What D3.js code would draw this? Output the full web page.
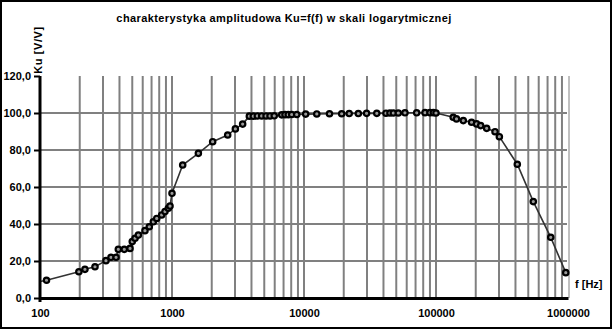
<!DOCTYPE html>
<html>
<head>
<meta charset="utf-8">
<script src="https://cdn.jsdelivr.net/npm/d3@7"></script>
<style>
  body { margin:0; background:#fff; }
  text { font-family: "Liberation Sans", Arial, sans-serif; font-weight:bold; fill:#000; }
</style>
</head>
<body>
<div id="canvas"></div>
<script>
// measured frequencies [Hz]
var freq = [95, 112, 197, 219, 261, 316, 345, 377, 392, 435, 481, 500, 525, 556, 624, 673, 722, 766, 835, 885, 938, 966, 1000,
  1205, 1584, 2033, 2642, 3020, 3430,
  3855, 4130, 4430, 4780, 5160, 5530, 5950,
  6780, 7180, 7600, 8070, 8810,
  10300, 12500, 15600, 19300, 22000, 25800, 29800, 35600,
  41800, 44800, 47500, 51800, 58200, 71400, 82600, 90100, 95500, 100000,
  135000, 143000, 161000, 186000, 203000, 218000, 242000, 280000, 302000,
  413000, 546000, 740000, 962000];
// Ku [V/V]
var ku = [8.6, 9.6, 14.2, 15.5, 16.9, 20.2, 22.0, 22.0, 26.3, 26.3, 26.8, 30.5, 32.3, 34.0, 36.4, 38.5, 41.2, 43.0, 44.9, 46.7, 48.5, 49.7, 56.6,
  71.9, 78.2, 84.5, 88.1, 91.4, 94.0,
  98.3, 98.3, 98.4, 98.4, 98.4, 98.4, 98.5,
  99.0, 99.1, 99.1, 99.2, 99.2,
  99.4, 99.5, 99.6, 99.6, 99.7, 99.7, 99.8, 99.8,
  99.9, 100.0, 100.0, 100.0, 100.1, 100.1, 100.2, 100.2, 100.2, 100.0,
  97.7, 96.8, 95.9, 95.0, 94.1, 93.2, 91.7, 89.9, 87.2,
  72.3, 52.1, 32.8, 13.7];

var yTicks = [0, 20, 40, 60, 80, 100, 120];
var xTicks = [100, 1000, 10000, 100000, 1000000];
var title = "charakterystyka amplitudowa Ku=f(f) w skali logarytmicznej";
var yTitle = "Ku [V/V]";
var xTitle = "f [Hz]";

var W = 612, H = 329;
var m = {t:76, r:44, b:31, l:40};
var w = W - m.l - m.r,
    h = H - m.t - m.b;

var svg = d3.select('#canvas').append('svg')
  .attr('width', W).attr('height', H);

// outer frame
svg.append('rect').attr('x',1).attr('y',1).attr('width',W-2).attr('height',H-2)
  .attr('fill','none').attr('stroke','#000').attr('stroke-width',2);

var plot = svg.append('g').attr('transform','translate(' + m.l + ',' + m.t + ')');

var x = d3.scaleLog().domain([100, 1000000]).range([0, w]);
var y = d3.scaleLinear().domain([0, 120]).range([h, 0]);

// vertical grid (minor log lines)
var gridX = [];
xTicks.slice(0, -1).forEach(function(d){
  for (var k = 1; k < 10; k++) {
    if (d*k > 100) gridX.push(d*k);
  }
});
plot.selectAll('.vgrid').data(gridX).enter().append('line')
  .attr('class','vgrid')
  .attr('x1', function(d){ return x(d); }).attr('x2', function(d){ return x(d); })
  .attr('y1', 0).attr('y2', h)
  .attr('stroke','#808080').attr('stroke-width',2);
// last line, thin
plot.append('line')
  .attr('x1', x(1000000)+1).attr('x2', x(1000000)+1).attr('y1', 0).attr('y2', h)
  .attr('stroke','#808080').attr('stroke-width',1);

// horizontal grid
plot.selectAll('.hgrid').data(yTicks.slice(1, -1)).enter().append('line')
  .attr('class','hgrid')
  .attr('x1', 0).attr('x2', w - 1)
  .attr('y1', function(d){ return y(d); }).attr('y2', function(d){ return y(d); })
  .attr('stroke','#808080').attr('stroke-width',2);

// data line + markers
plot.append('clipPath').attr('id','clip').append('rect')
  .attr('x',0).attr('y',-5).attr('width',w+5).attr('height',h+5);

var data = freq.map(function(f, i){ return {f:f, v:ku[i]}; });
var line = d3.line().x(function(d){ return x(d.f); }).y(function(d){ return y(d.v); });

var g = plot.append('g').attr('clip-path','url(#clip)');
g.append('path').datum(data).attr('d', line)
  .attr('fill','none').attr('stroke','#333').attr('stroke-width',1.6);
g.selectAll('circle').data(data.filter(function(d){ return d.f >= 100; })).enter().append('circle')
  .attr('cx', function(d){ return x(d.f); })
  .attr('cy', function(d){ return y(d.v); })
  .attr('r', 2.7)
  .attr('fill','#999').attr('stroke','#000').attr('stroke-width',2.2);

// y axis
var fmt = function(d){ return d3.format('.1f')(d).replace('.', ','); };
var axisY = d3.axisLeft(y).tickValues(yTicks).tickFormat(fmt).tickSize(6).tickSizeOuter(0).tickPadding(3);
var gy = plot.append('g').call(axisY);
gy.select('.domain').attr('stroke','#000').attr('stroke-width',3).attr('d','M0,0V' + (h+4));
gy.selectAll('.tick line').attr('stroke','#000').attr('stroke-width',2);
gy.selectAll('.tick text').style('font-size','11px').attr('dy','0.35em');

// x axis
var axisX = d3.axisBottom(x).tickValues(xTicks).tickFormat(d3.format('d')).tickSize(0).tickSizeOuter(0).tickPadding(11);
var gx = plot.append('g').attr('transform','translate(0,' + h + ')').call(axisX);
gx.select('.domain').attr('stroke','#000').attr('stroke-width',3);
gx.selectAll('.tick text').style('font-size','11px');

// titles
svg.append('text').attr('x', 284).attr('y', 22).attr('text-anchor','middle')
  .style('font-size','11px').style('letter-spacing','0.4px').text(title);
svg.append('text').attr('transform','translate(42,50) rotate(-90)').attr('text-anchor','middle')
  .style('font-size','11px').style('letter-spacing','0.6px').text(yTitle);
svg.append('text').attr('x', 575).attr('y', 288)
  .style('font-size','11px').text(xTitle);
</script>
</body>
</html>
